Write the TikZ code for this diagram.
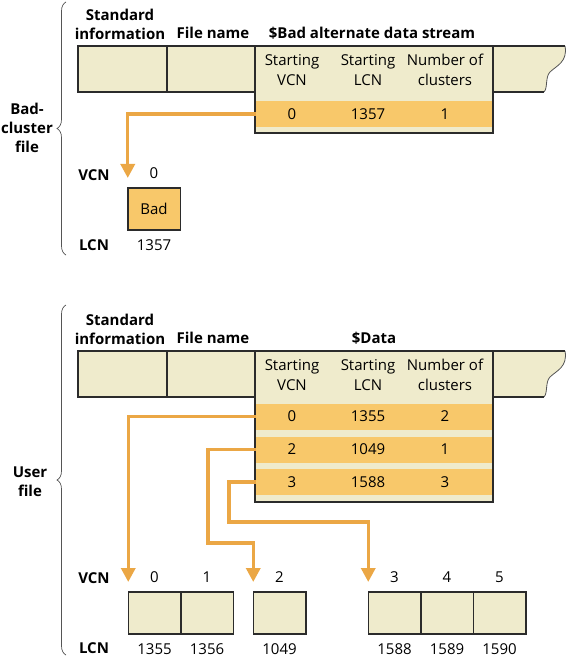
\documentclass[tikz,border=0pt]{standalone}
\usepackage{fontspec}
\setmainfont{Open Sans}
\usetikzlibrary{arrows.meta,positioning,decorations.pathreplacing}
\definecolor{paper}{HTML}{EFEBCC}
\definecolor{runfill}{HTML}{F8C86A}
\definecolor{runarrow}{HTML}{EBA745}
\definecolor{edge}{HTML}{2B2B2B}
\definecolor{bracec}{HTML}{555555}

\begin{document}
\begin{tikzpicture}[x=1pt,y=-1pt,
  every node/.style={font=\fontsize{15}{20}\selectfont,inner sep=0pt},
  hdr/.style={font=\fontsize{15}{19}\selectfont\bfseries,align=center},
  colhd/.style={align=center},
  cell/.style={draw=edge,fill=paper,line width=1.5pt,minimum width=52.5pt,minimum height=42pt,outer sep=0pt},
  attrbox/.style={draw=edge,fill=paper,line width=1.5pt,minimum width=238pt,outer sep=0pt},
  runrow/.style={fill=runfill,minimum width=236pt,minimum height=26pt,outer sep=0pt},
  ptr/.style={draw=runarrow,line width=3.4pt,-{Triangle[width=14pt,length=14pt]}},
  grp/.style={draw=bracec,line width=0.7pt,decorate,decoration={brace,amplitude=9pt}}]
  \useasboundingbox (0,0) rectangle (566,660);

  % bad-cluster file
  \draw[grp] (66,255) -- (66,2);
  \node[hdr] (badlbl) at (27,128) {Bad-\\cluster\\file};
  \node[hdr] (bstd) at (120,24) {Standard\\information};
  \node[hdr] (bname) at (213,33) {File name};
  \node[hdr] (bstream) at (372,33) {\$Bad alternate data stream};
  \fill[paper] (78,46) -- (565,46) .. controls (568,62) and (556,66) .. (550,72)
    .. controls (545,77) and (548,88) .. (544,92) -- (78,92) -- cycle;
  \draw[bracec,line width=0.8pt] (565,46) .. controls (568,62) and (556,66) .. (550,72)
    .. controls (545,77) and (548,88) .. (544,92);
  \draw[edge,line width=1.5pt] (565,46) -- (78,46) -- (78,92) -- (544,92);
  \draw[edge,line width=1.5pt] (167,46) -- (167,92);
  \node[attrbox,minimum height=87pt] (battr) at (374,89.5) {};
  \node[runrow] (brun) at (374,114) {};
  \foreach \x/\t [count=\k] in {292/Starting\\VCN,368/Starting\\LCN,445/Number of\\clusters}
    \node[colhd] (bcol\k) at (\x,70) {\t};
  \foreach \x/\v [count=\k] in {292/0,368/1357,445/1}
    \node (bval\k) at (\x,114) {\v};
  \node[cell,fill=runfill] (badclu) at (154,209) {Bad};
  \node[above=9pt of badclu] (bvcn0) {0};
  \node[below=9pt of badclu] (blcn0) {1357};
  \node[font=\fontsize{15}{20}\selectfont\bfseries] (bvcn) at (94,175) {VCN};
  \node[font=\fontsize{15}{20}\selectfont\bfseries] (blcn) at (94,245) {LCN};
  \draw[ptr] (brun.west) -| ([yshift=10pt]badclu.north west);

  % user file
  \draw[grp] (66,655) -- (66,305);
  \node[hdr] (userlbl) at (30,482) {User\\file};
  \node[hdr] (ustd) at (120,329) {Standard\\information};
  \node[hdr] (uname) at (213,338) {File name};
  \node[hdr] (udata) at (374,338) {\$Data};
  \fill[paper] (78,351) -- (565,351) .. controls (568,367) and (556,371) .. (550,377)
    .. controls (545,382) and (548,393) .. (544,397) -- (78,397) -- cycle;
  \draw[bracec,line width=0.8pt] (565,351) .. controls (568,367) and (556,371) .. (550,377)
    .. controls (545,382) and (548,393) .. (544,397);
  \draw[edge,line width=1.5pt] (565,351) -- (78,351) -- (78,397) -- (544,397);
  \draw[edge,line width=1.5pt] (167,351) -- (167,397);
  \node[attrbox,minimum height=151pt] (uattr) at (374,426.5) {};
  \foreach \x/\t [count=\k] in {292/Starting\\VCN,368/Starting\\LCN,445/Number of\\clusters}
    \node[colhd] (ucol\k) at (\x,375) {\t};
  \foreach \r/\y/\a/\b/\c in {0/416.5/0/1355/2,1/449.5/2/1049/1,2/482/3/1588/3} {
    \node[runrow] (run\r) at (374,\y) {};
    \node (ra\r) at (292,\y) {\a};
    \node (rb\r) at (368,\y) {\b};
    \node (rc\r) at (445,\y) {\c};
  }
  \foreach \n/\x/\l in {0/154.5/1355,1/207/1356,2/279.5/1049,3/394.5/1588,4/447/1589,5/499.5/1590} {
    \node[cell] (c\n) at (\x,613) {};
    \node[above=9pt of c\n] (v\n) {\n};
    \node[below=9pt of c\n] (l\n) {\l};
  }
  \node[font=\fontsize{15}{20}\selectfont\bfseries] (uvcn) at (94,578) {VCN};
  \node[font=\fontsize{15}{20}\selectfont\bfseries] (ulcn) at (94,648) {LCN};
  \coordinate (k1) at (208,543);
  \coordinate (k2) at (229,522);
  \draw[ptr] (run0.west) -| ([yshift=10pt]c0.north west);
  \draw[ptr] (run1.west) -| (k1) -| ([yshift=10pt]c2.north west);
  \draw[ptr] (run2.west) -| (k2) -| ([yshift=10pt]c3.north west);
\end{tikzpicture}
\end{document}
